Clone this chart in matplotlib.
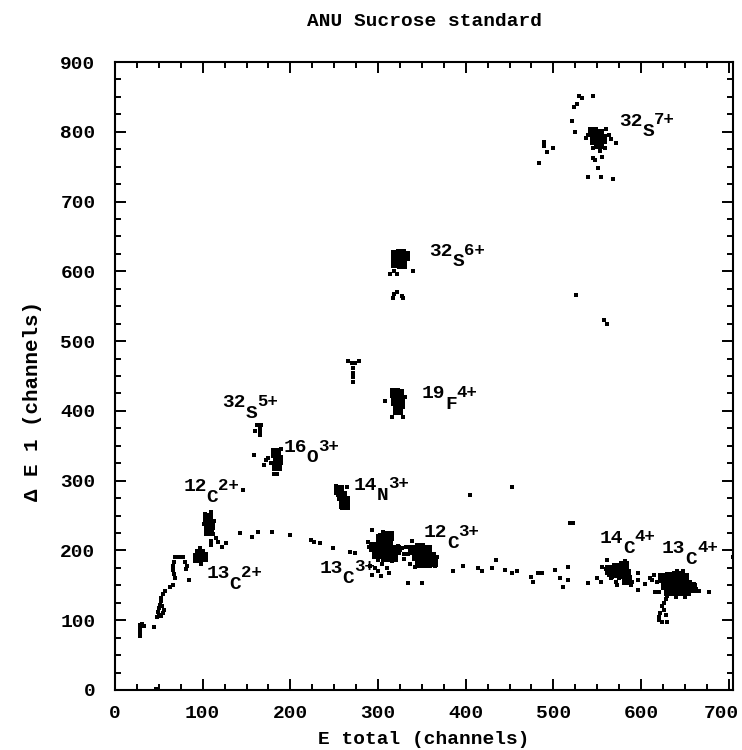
import matplotlib
matplotlib.use('Agg')
import numpy as np
from matplotlib import pyplot as plt
from matplotlib.ticker import MultipleLocator
from matplotlib.transforms import ScaledTranslation

FONT = 'Liberation Mono'
WEIGHT = 'bold'

# single events (E total, dE 1)
low_chain = [(28, 78), (28, 83), (28, 88), (28, 93), (31, 95), (33, 92), (44, 90), (48, 105),
             (57, 142), (55, 138), (53, 132), (52, 127), (51, 122), (50, 117), (49, 112), (50, 108),
             (56, 114), (55, 110), (53, 106), (54, 120), (63, 147), (66, 150),
             (68, 190), (73, 191), (77, 190), (67, 184), (66, 178), (66, 172), (67, 166), (68, 161),
             (80, 183), (82, 178), (81, 173), (84, 158), (47, 2)]
c2_dots = [(92, 192), (104, 194), (97, 203), (98, 181), (91, 186), (102, 186),
           (103, 252), (110, 255), (101, 238), (113, 242), (112, 223), (115, 218), (110, 213),
           (109, 208), (118, 212), (122, 205), (127, 210), (146, 287)]
curve_dots = [(143, 225), (156, 219), (163, 226), (179, 226), (200, 222), (223, 215), (227, 212),
              (234, 211), (249, 203), (268, 198), (274, 197), (386, 170), (397, 178), (414, 175),
              (419, 171), (430, 175), (434, 186), (445, 172), (453, 168), (459, 171), (474, 162),
              (477, 155), (483, 168), (487, 167), (502, 172), (508, 160), (511, 148), (517, 176),
              (517, 158), (539, 153), (550, 160), (554, 155), (405, 279), (453, 291), (519, 239),
              (522, 240), (558, 530), (561, 525), (705, 190), (677, 141)]
c3_dots = [(288, 212), (290, 205), (293, 229), (306, 226), (300, 220), (322, 196), (323, 207),
           (316, 185), (300, 186), (293, 165), (296, 175), (300, 170), (305, 180), (310, 175),
           (312, 168), (303, 163), (291, 178), (327, 203), (330, 195), (325, 200),
           (332, 205), (334, 195), (330, 188), (337, 180), (339, 213), (365, 178), (342, 176),
           (367, 190), (334, 153), (350, 153)]
c4_dots = [(556, 176), (560, 173), (582, 185), (563, 165), (575, 160), (588, 150), (590, 155),
           (561, 186), (571, 155), (566, 160), (567, 162), (573, 150), (597, 168), (596, 158),
           (597, 143), (616, 140), (610, 160), (615, 165), (612, 158), (605, 152), (618, 155),
           (620, 140), (663, 145), (666, 142), (660, 152), (655, 138), (650, 134), (640, 134),
           (630, 135), (648, 170), (641, 170), (628, 130), (626, 125), (624, 120), (626, 115),
           (622, 110), (620, 105), (621, 100), (624, 98), (630, 97), (629, 107)]
heavy_dots = [(162, 380), (166, 380), (165, 375), (165, 370), (165, 365), (160, 371),
              (172, 330), (170, 322), (175, 333), (180, 335), (178, 326), (185, 310), (181, 310),
              (189, 345), (158, 337),
              (252, 292), (265, 291), (254, 280), (266, 275), (258, 262),
              (266, 472), (270, 468), (274, 468), (278, 472), (272, 462), (272, 455), (272, 448),
              (272, 441),
              (308, 414), (316, 391), (329, 391), (331, 420),
              (318, 600), (314, 596), (322, 596), (340, 600), (318, 567), (322, 570), (327, 565),
              (329, 562), (317, 562), (526, 566)]
s7_dots = [(540, 795), (537, 791), (560, 804), (563, 795), (566, 790), (572, 784), (559, 777),
           (545, 777), (553, 772), (545, 762), (548, 759), (556, 764), (551, 748), (540, 735),
           (554, 735), (568, 732), (529, 852), (545, 852), (533, 848), (527, 840), (524, 835),
           (521, 815), (525, 799), (489, 785), (489, 780), (493, 771), (500, 777), (484, 755)]

# dense centres of the peaks
blob_cores = [(545, 800), (552, 797), (548, 788), (556, 790), (552, 782),
              (320, 624), (326, 625), (331, 622), (320, 612), (327, 610),
              (319, 425), (324, 424), (321, 414), (325, 410), (323, 402),
              (184, 340), (186, 330), (185, 321),
              (256, 287), (259, 278), (261, 270), (262, 265),
              (106, 246), (108, 236), (107, 228),
              (97, 195), (95, 189), (100, 190),
              (295, 205), (303, 210), (311, 212), (305, 200), (313, 200), (320, 201),
              (299, 195), (309, 190), (317, 191), (306, 218), (312, 220),
              (340, 200), (348, 203), (356, 200), (344, 192), (352, 192), (360, 190),
              (348, 182), (356, 182), (363, 184),
              (565, 172), (573, 175), (580, 178), (576, 167), (583, 166), (584, 158), (570, 168),
              (625, 160), (633, 162), (641, 163), (649, 160), (628, 150), (636, 152), (644, 152),
              (652, 150), (632, 142), (640, 142), (648, 142), (658, 146)]

ion_mass = ['32', '32', '19', '32', '16', '14', '12', '13', '13', '12', '14', '13']
ion_elem = ['S', 'S', 'F', 'S', 'O', 'N', 'C', 'C', 'C', 'C', 'C', 'C']
ion_charge = ['7+', '6+', '4+', '5+', '3+', '3+', '2+', '2+', '3+', '3+', '4+', '4+']
ion_x = [575, 358, 350, 122, 192, 272, 78, 104, 233, 352, 553, 624]
ion_y = [809, 622, 418, 405, 341, 287, 285, 160, 168, 219, 211, 196]


def plot_points(ax, points, size):
    xs = [p[0] for p in points]
    ys = [p[1] for p in points]
    ax.plot(xs, ys, linestyle='none', marker='s', markersize=size,
            color='black', markeredgewidth=0, clip_on=True)


def ion_label(ax, x, y, mass, elem, charge):
    size = 14
    adv = 0.6 * size
    style = dict(textcoords='offset points', family=FONT, weight=WEIGHT,
                 ha='left', va='baseline')
    ax.annotate(mass, (x, y), xytext=(0, 0), fontsize=size, **style)
    ax.annotate(elem, (x, y), xytext=(len(mass) * adv, -7.5), fontsize=size, **style)
    ax.annotate(charge, (x, y), xytext=(len(mass) * adv + adv, 1), fontsize=12.5, **style)


def main() -> None:
    fig = plt.figure(figsize=(7.42, 7.5), dpi=100)
    ax = fig.add_axes([0.155, 0.08, 0.833, 0.8373])

    all_dots = low_chain + c2_dots + curve_dots + c3_dots + c4_dots + heavy_dots + s7_dots
    plot_points(ax, all_dots, 2.6)
    plot_points(ax, blob_cores, 6.5)

    for m, e, c, x, y in zip(ion_mass, ion_elem, ion_charge, ion_x, ion_y):
        ion_label(ax, x, y, m, e, c)

    ax.set_xlim(0, 705)
    ax.set_ylim(0, 900)
    ax.xaxis.set_major_locator(MultipleLocator(100))
    ax.xaxis.set_minor_locator(MultipleLocator(25))
    ax.yaxis.set_major_locator(MultipleLocator(100))
    ax.yaxis.set_minor_locator(MultipleLocator(25))
    ax.tick_params(which='both', direction='in', top=True, right=True, width=1.4)
    ax.tick_params(which='major', length=8, labelsize=14)
    ax.tick_params(which='minor', length=4.5)
    ax.tick_params(axis='x', which='major', pad=11)
    ax.tick_params(axis='y', which='major', pad=14)
    for lab in ax.get_xticklabels() + ax.get_yticklabels():
        lab.set_family(FONT)
        lab.set_weight(WEIGHT)
    # the 700 label sits against the right edge of the page
    for tick in ax.xaxis.get_major_ticks():
        if abs(tick.get_loc() - 700) < 1:
            lab = tick.label1
            lab.set_transform(lab.get_transform() +
                              ScaledTranslation(-5 / 72, 0, fig.dpi_scale_trans))
    for sp in ax.spines.values():
        sp.set_linewidth(1.5)

    ax.set_xlabel('E total (channels)', fontsize=14, family=FONT, weight=WEIGHT, labelpad=6)
    ax.set_ylabel('\u0394 E 1 (channels)', fontsize=15, family=FONT, weight=WEIGHT)
    ax.yaxis.set_label_coords(-0.118, 0.46)
    ax.set_title('ANU Sucrose standard', fontsize=14, family=FONT, weight=WEIGHT, pad=26)

    fig.savefig('out.png', dpi=100)


if __name__ == '__main__':
    main()
